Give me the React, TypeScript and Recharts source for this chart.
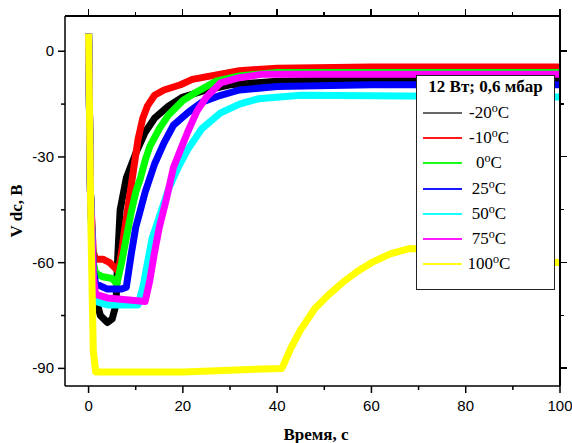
import { LineChart, Line, XAxis, YAxis } from 'recharts'

const seriesLabels = ['-20', '-10', '0', '25', '50', '75', '100']
const seriesColors = ['#000000', '#ff0000', '#00ff00', '#0000ff', '#00ffff', '#ff00ff', '#ffff00']

// [time, V]
const minus20 = [[0, 5], [0.4, -40], [1, -65], [1.5, -70], [2.5, -75], [4, -77], [5, -76], [5.8, -72], [6.2, -58], [6.7, -45], [8, -36], [10, -29], [12, -23], [14, -19], [17, -15.5], [20, -13], [25, -11], [30, -9.5], [40, -8.5], [60, -8], [100, -8]]
const minus10 = [[0, 5], [0.4, -40], [1, -57], [1.5, -59], [3, -59], [4.5, -60], [6, -62], [6.5, -61], [7, -57], [7.5, -52], [8.5, -43], [9.5, -34], [10.5, -25], [11.5, -19], [12.5, -15.5], [14, -12.5], [16, -11], [19.5, -9.5], [22, -8], [26, -7], [32, -5.5], [40, -4.8], [60, -4.5], [100, -4.5]]
const zero = [[0, 5], [0.4, -40], [1, -60], [1.5, -63], [3, -64], [5, -64.5], [6, -66], [7, -60], [8, -53], [9, -46], [10, -40], [11, -36], [12, -31], [13, -27], [15, -22], [17, -18], [20, -14], [23, -11.5], [27, -8.5], [32, -7], [40, -6], [100, -6]]
const plus25 = [[0, 5], [0.4, -40], [1, -62], [1.5, -66], [4, -67.5], [7, -67.5], [8, -67], [9, -58], [10, -50], [11, -45], [12, -40], [14, -32], [16, -26], [18, -21], [21, -17.5], [24, -14.5], [28, -12.5], [32, -11], [40, -10], [60, -9.5], [100, -9.5]]
const plus50 = [[0, 5], [0.4, -40], [1, -66], [1.5, -71], [4, -72], [8, -72], [10.5, -72], [11.5, -67], [12.5, -60], [13.5, -53], [15, -47], [17, -39], [19, -33], [21, -28], [24, -22], [28, -17.5], [32, -15], [36, -13.5], [45, -12.5], [100, -13]]
const plus75 = [[0, 5], [0.4, -40], [1, -64], [1.5, -69], [4, -70], [8, -70.5], [12, -71], [13, -65], [14, -57], [15, -50], [16.5, -42], [18, -33], [19.5, -28], [21, -23], [23, -17], [25, -13], [28, -9], [32, -7.5], [37, -6.5], [100, -6.5]]
const plus100 = [[0, 5], [0.5, -50], [1, -85], [1.5, -91], [10, -91], [20, -91], [30, -90.5], [41, -90], [43, -84], [45, -79], [48, -73], [51, -69], [54, -65.5], [57, -62.5], [60, -60], [64, -57.5], [68, -56], [75, -56.5], [85, -58], [100, -60]]

const allSeries = [minus20, minus10, zero, plus25, plus50, plus75, plus100]

const xTicks = [0, 10, 20, 30, 40, 50, 60, 70, 80, 90, 100]
const yTicks = [-90, -75, -60, -45, -30, -15, 0]
const xDomain = [-5, 100]
const yDomain = [-95, 10]

const W = 572
const H = 443
// plot box
const PLOT = { left: 65, top: 16, right: 560, bottom: 386 }

const sans = '"Liberation Sans", Arial, sans-serif'
const serif = '"Liberation Serif", "Times New Roman", serif'

const XTick = (props: any) => {
  const { x, y, payload } = props
  const v = payload.value
  const major = v % 20 === 0
  const len = major ? 7 : 4
  return (
    <g>
      <line x1={x} x2={x} y1={y} y2={y + len} stroke="#000" strokeWidth={1.5} />
      {major && (
        <text x={x} y={y + 25} textAnchor="middle" fontFamily={sans} fontSize={15} fill="#000">
          {v}
        </text>
      )}
    </g>
  )
}

const YTick = (props: any) => {
  const { x, y, payload } = props
  const v = payload.value
  const major = v % 30 === 0
  const len = major ? 7 : 4
  return (
    <g>
      <line x1={x} x2={x - len} y1={y} y2={y} stroke="#000" strokeWidth={1.5} />
      {major && (
        <text x={x - 11} y={y + 5} textAnchor="end" fontFamily={sans} fontSize={15} fill="#000">
          {v}
        </text>
      )}
    </g>
  )
}

// top and right edges of the box with outward ticks, as plain html on top of the chart
function Frame() {
  const pw = PLOT.right - PLOT.left
  const ph = PLOT.bottom - PLOT.top
  const sx = (t: number) => PLOT.left + ((t - xDomain[0]) / (xDomain[1] - xDomain[0])) * pw
  const sy = (v: number) => PLOT.top + ((yDomain[1] - v) / (yDomain[1] - yDomain[0])) * ph
  return (
    <div style={{ position: 'absolute', left: 0, top: 0, width: W, height: H, zIndex: 5, pointerEvents: 'none' }}>
      <div style={{ position: 'absolute', left: PLOT.left, top: PLOT.top - 1, width: pw + 1, height: 2, background: '#000' }} />
      <div style={{ position: 'absolute', left: PLOT.right - 1, top: PLOT.top - 1, width: 2, height: ph + 1, background: '#000' }} />
      {xTicks.map((t) => {
        const len = t % 20 === 0 ? 7 : 4
        return <div key={`t${t}`} style={{ position: 'absolute', left: sx(t) - 1, top: PLOT.top - len, width: 1.5, height: len, background: '#000' }} />
      })}
      {yTicks.map((v) => {
        const len = v % 30 === 0 ? 7 : 4
        return <div key={`r${v}`} style={{ position: 'absolute', left: PLOT.right, top: sy(v) - 1, width: len, height: 1.5, background: '#000' }} />
      })}
    </div>
  )
}

function LegendBox() {
  return (
    <div
      style={{
        position: 'absolute',
        left: 416,
        top: 75,
        width: 139,
        height: 215,
        border: '1.5px solid #222',
        background: '#fff',
        boxSizing: 'border-box',
        fontFamily: serif,
        color: '#000',
        zIndex: 6,
      }}
    >
      <div style={{ position: 'absolute', left: 0, right: 0, top: 1, textAlign: 'center', fontWeight: 'bold', fontSize: 17, lineHeight: '20px' }}>
        12 Вт; 0,6 мбар
      </div>
      {seriesLabels.map((name, i) => (
        <div key={name} style={{ position: 'absolute', left: 0, top: Math.round(26 + i * 25.2), height: 22, width: '100%' }}>
          <div style={{ position: 'absolute', left: 6, top: 10, width: 39, height: 2, background: seriesColors[i], opacity: i === 0 ? 0.6 : 0.9 }} />
          <div style={{ position: 'absolute', left: 47, width: 50, textAlign: 'center', fontSize: 17, lineHeight: '22px', whiteSpace: 'nowrap' }}>
            {name}
            <span style={{ fontSize: 12, position: 'relative', top: -6 }}>o</span>C
          </div>
        </div>
      ))}
    </div>
  )
}

export default function App() {
  return (
    <div style={{ position: 'absolute', left: 0, top: 0, width: W, height: H, background: '#fff' }}>
      <div style={{ position: 'absolute', left: 0, top: 0, zIndex: 1 }}>
        <LineChart
          width={W}
          height={H}
          margin={{ top: PLOT.top, right: W - PLOT.right, bottom: H - PLOT.bottom - 30, left: 0 }}
        >
          <XAxis
            dataKey="t"
            type="number"
            domain={xDomain}
            ticks={xTicks}
            interval={0}
            height={30}
            tickSize={0}
            tickMargin={0}
            axisLine={{ stroke: '#000', strokeWidth: 1.5 }}
            tick={(p: any) => <XTick {...p} />}
            allowDataOverflow
            label={{
              content: () => (
                <text x={316} y={440} textAnchor="middle" fontFamily={serif} fontWeight="bold" fontSize={17} fill="#000">
                  Время, с
                </text>
              ),
            }}
          />
          <YAxis
            type="number"
            domain={yDomain}
            ticks={yTicks}
            interval={0}
            width={PLOT.left}
            tickSize={0}
            tickMargin={0}
            axisLine={{ stroke: '#000', strokeWidth: 1.5 }}
            tick={(p: any) => <YTick {...p} />}
            allowDataOverflow
            label={{
              content: () => (
                <text x={22} y={211} transform="rotate(-90 22 211)" textAnchor="middle" fontFamily={serif} fontWeight="bold" fontSize={17} fill="#000">
                  V dc, B
                </text>
              ),
            }}
          />
          {allSeries.map((s, i) => (
            <Line
              key={seriesLabels[i]}
              data={s.map(([t, v]) => ({ t, v }))}
              dataKey="v"
              type="linear"
              stroke={seriesColors[i]}
              strokeWidth={7}
              strokeLinejoin="round"
              dot={false}
              activeDot={false}
              isAnimationActive={false}
            />
          ))}
        </LineChart>
      </div>
      <Frame />
      <LegendBox />
    </div>
  )
}
